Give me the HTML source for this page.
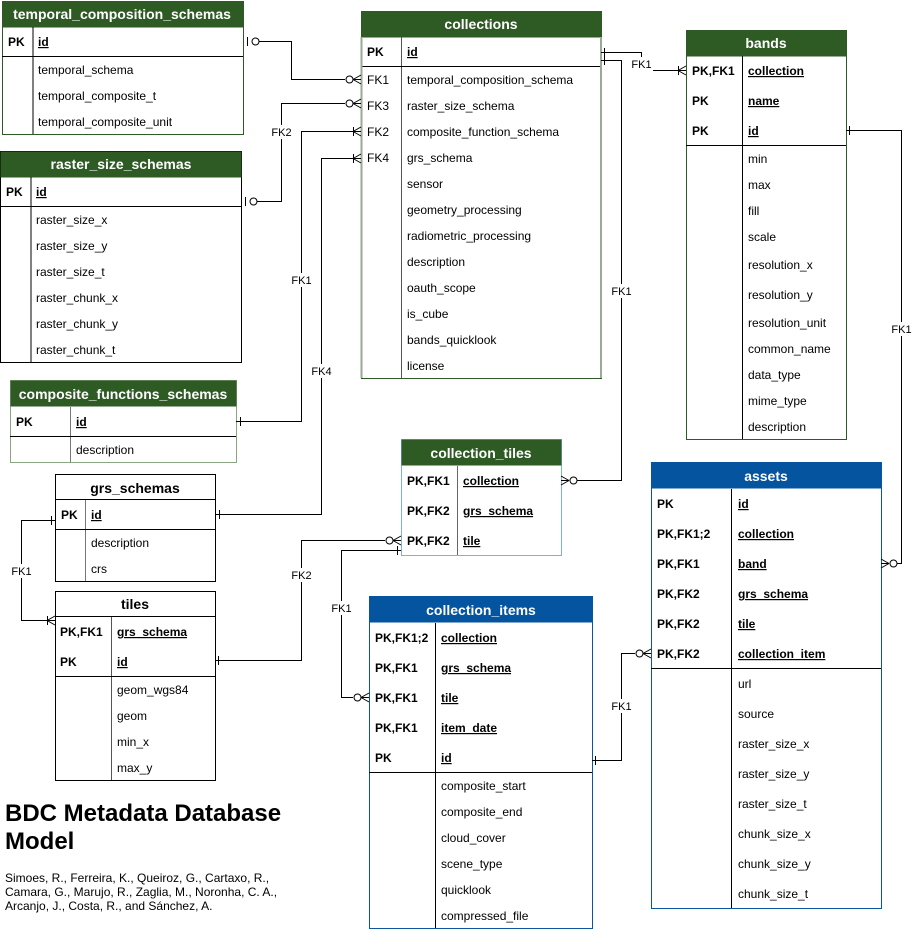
<!DOCTYPE html>
<html><head><meta charset="utf-8"><style>
html,body{margin:0;padding:0;background:#fff;}
svg{display:block;font-family:"Liberation Sans",Arial,sans-serif;}
.h{fill:#fff;font-weight:bold;font-size:14px;text-anchor:middle;}
.hb{fill:#000;font-weight:bold;font-size:14px;text-anchor:middle;}
.k{font-weight:bold;font-size:12px;fill:#000;}
.u{font-weight:bold;font-size:12px;fill:#000;text-decoration:underline;}
.t{font-size:12px;fill:#000;}
.l{font-size:11px;fill:#000;text-anchor:middle;}
.c{fill:none;stroke:#000;stroke-width:1;}
</style></head><body>
<svg width="912" height="932" viewBox="0 0 912 932" xmlns="http://www.w3.org/2000/svg">

<!-- temporal_composition_schemas -->
<rect x="2.5" y="1.5" width="241" height="133" fill="#fff" stroke="#2d5a27"/>
<rect x="2.5" y="1.5" width="241" height="26" fill="#2e5a24"/>
<text class="h" x="122" y="19">temporal_composition_schemas</text>
<line class="c" x1="33" y1="27" x2="33" y2="134"/><line class="c" x1="2" y1="56.5" x2="243" y2="56.5"/>
<text class="k" x="8" y="46">PK</text><text class="u" x="38" y="46">id</text>
<text class="t" x="38" y="74">temporal_schema</text>
<text class="t" x="38" y="100">temporal_composite_t</text>
<text class="t" x="38" y="126">temporal_composite_unit</text>

<!-- raster_size_schemas -->
<rect x="0.5" y="151.5" width="241" height="211" fill="#fff" stroke="#000"/>
<rect x="0.5" y="151.5" width="241" height="26" fill="#2e5a24"/>
<text class="h" x="121" y="169">raster_size_schemas</text>
<line class="c" x1="31" y1="177" x2="31" y2="362"/><line class="c" x1="0" y1="206.5" x2="241" y2="206.5"/>
<text class="k" x="6" y="196">PK</text><text class="u" x="36" y="196">id</text>
<text class="t" x="36" y="224">raster_size_x</text>
<text class="t" x="36" y="250">raster_size_y</text>
<text class="t" x="36" y="276">raster_size_t</text>
<text class="t" x="36" y="302">raster_chunk_x</text>
<text class="t" x="36" y="328">raster_chunk_y</text>
<text class="t" x="36" y="354">raster_chunk_t</text>

<!-- composite_functions_schemas -->
<rect x="10.5" y="380.5" width="226" height="82" fill="#fff" stroke="#8aa582"/>
<rect x="10.5" y="380.5" width="226" height="26" fill="#2e5a24"/>
<text class="h" x="123" y="399">composite_functions_schemas</text>
<line x1="70.5" y1="407" x2="70.5" y2="462" stroke="#777"/><line class="c" x1="10" y1="436.5" x2="236" y2="436.5"/>
<text class="k" x="16" y="426">PK</text><text class="u" x="76" y="426">id</text>
<text class="t" x="76" y="454">description</text>

<!-- grs_schemas -->
<rect x="55.5" y="474.5" width="160" height="107" fill="#fff" stroke="#000"/>
<line class="c" x1="55" y1="499.5" x2="215" y2="499.5"/>
<text class="hb" x="135" y="493">grs_schemas</text>
<line x1="85.5" y1="500" x2="85.5" y2="581" stroke="#777"/><line class="c" x1="55" y1="529.5" x2="215" y2="529.5"/>
<text class="k" x="61" y="519">PK</text><text class="u" x="91" y="519">id</text>
<text class="t" x="91" y="547">description</text>
<text class="t" x="91" y="573">crs</text>

<!-- tiles -->
<rect x="55.5" y="591.5" width="160" height="189" fill="#fff" stroke="#000"/>
<line class="c" x1="55" y1="616.5" x2="215" y2="616.5"/>
<text class="hb" x="135" y="609">tiles</text>
<line x1="111.5" y1="617" x2="111.5" y2="780" stroke="#555"/><line class="c" x1="55" y1="676.5" x2="215" y2="676.5"/>
<text class="k" x="60" y="636">PK,FK1</text><text class="u" x="117" y="636">grs_schema</text>
<text class="k" x="60" y="666">PK</text><text class="u" x="117" y="666">id</text>
<text class="t" x="117" y="694">geom_wgs84</text>
<text class="t" x="117" y="720">geom</text>
<text class="t" x="117" y="746">min_x</text>
<text class="t" x="117" y="772">max_y</text>

<!-- collections -->
<rect x="361.5" y="11.5" width="240" height="367" fill="#fff" stroke="#2d5a27"/>
<rect x="361.5" y="11.5" width="240" height="26" fill="#2e5a24"/>
<text class="h" x="481" y="29">collections</text>
<line x1="401.5" y1="37" x2="401.5" y2="378" stroke="#555"/><line class="c" x1="361" y1="66.5" x2="601" y2="66.5"/>
<line x1="361.5" y1="37" x2="361.5" y2="378" stroke="#9aaa96" stroke-width="2"/>
<line x1="601" y1="37" x2="601" y2="378" stroke="#9aaa96" stroke-width="2"/>
<text class="k" x="367" y="56">PK</text><text class="u" x="407" y="56">id</text>
<text class="t" x="367" y="84">FK1</text><text class="t" x="407" y="84">temporal_composition_schema</text>
<text class="t" x="367" y="110">FK3</text><text class="t" x="407" y="110">raster_size_schema</text>
<text class="t" x="367" y="136">FK2</text><text class="t" x="407" y="136">composite_function_schema</text>
<text class="t" x="367" y="162">FK4</text><text class="t" x="407" y="162">grs_schema</text>
<text class="t" x="407" y="188">sensor</text>
<text class="t" x="407" y="214">geometry_processing</text>
<text class="t" x="407" y="240">radiometric_processing</text>
<text class="t" x="407" y="266">description</text>
<text class="t" x="407" y="292">oauth_scope</text>
<text class="t" x="407" y="318">is_cube</text>
<text class="t" x="407" y="344">bands_quicklook</text>
<text class="t" x="407" y="370">license</text>

<!-- bands -->
<rect x="686.5" y="30.5" width="160" height="409" fill="#fff" stroke="#2d5a27"/>
<rect x="686.5" y="30.5" width="160" height="26" fill="#2e5a24"/>
<text class="h" x="766" y="48">bands</text>
<line class="c" x1="742.5" y1="56" x2="742.5" y2="439"/><line class="c" x1="686" y1="145.5" x2="846" y2="145.5"/>
<text class="k" x="692" y="75">PK,FK1</text><text class="u" x="748" y="75">collection</text>
<text class="k" x="692" y="105">PK</text><text class="u" x="748" y="105">name</text>
<text class="k" x="692" y="135">PK</text><text class="u" x="748" y="135">id</text>
<text class="t" x="748" y="163">min</text>
<text class="t" x="748" y="189">max</text>
<text class="t" x="748" y="215">fill</text>
<text class="t" x="748" y="241">scale</text>
<text class="t" x="748" y="269">resolution_x</text>
<text class="t" x="748" y="299">resolution_y</text>
<text class="t" x="748" y="327">resolution_unit</text>
<text class="t" x="748" y="353">common_name</text>
<text class="t" x="748" y="379">data_type</text>
<text class="t" x="748" y="405">mime_type</text>
<text class="t" x="748" y="431">description</text>

<!-- collection_tiles -->
<rect x="401.5" y="439.5" width="160" height="116" fill="#fff" stroke="#7fb2db"/>
<rect x="401.5" y="439.5" width="160" height="26" fill="#2e5a24"/>
<text class="h" x="481" y="458">collection_tiles</text>
<line x1="457.5" y1="466" x2="457.5" y2="555" stroke="#666"/>
<text class="k" x="407" y="485">PK,FK1</text><text class="u" x="463" y="485">collection</text>
<text class="k" x="407" y="515">PK,FK2</text><text class="u" x="463" y="515">grs_schema</text>
<text class="k" x="407" y="545">PK,FK2</text><text class="u" x="463" y="545">tile</text>

<!-- assets -->
<rect x="651.5" y="462.5" width="230" height="446" fill="#fff" stroke="#0a56a0"/>
<rect x="651.5" y="462.5" width="230" height="26" fill="#0454a0"/>
<text class="h" x="766" y="481">assets</text>
<line class="c" x1="731.5" y1="489" x2="731.5" y2="908"/><line class="c" x1="651" y1="668.5" x2="881" y2="668.5"/>
<text class="k" x="657" y="508">PK</text><text class="u" x="738" y="508">id</text>
<text class="k" x="657" y="538">PK,FK1;2</text><text class="u" x="738" y="538">collection</text>
<text class="k" x="657" y="568">PK,FK1</text><text class="u" x="738" y="568">band</text>
<text class="k" x="657" y="598">PK,FK2</text><text class="u" x="738" y="598">grs_schema</text>
<text class="k" x="657" y="628">PK,FK2</text><text class="u" x="738" y="628">tile</text>
<text class="k" x="657" y="658">PK,FK2</text><text class="u" x="738" y="658">collection_item</text>
<text class="t" x="738" y="688">url</text>
<text class="t" x="738" y="718">source</text>
<text class="t" x="738" y="748">raster_size_x</text>
<text class="t" x="738" y="778">raster_size_y</text>
<text class="t" x="738" y="808">raster_size_t</text>
<text class="t" x="738" y="838">chunk_size_x</text>
<text class="t" x="738" y="868">chunk_size_y</text>
<text class="t" x="738" y="898">chunk_size_t</text>

<!-- collection_items -->
<rect x="369.5" y="596.5" width="223" height="332" fill="#fff" stroke="#0a56a0"/>
<rect x="369.5" y="596.5" width="223" height="26" fill="#0454a0"/>
<text class="h" x="481" y="615">collection_items</text>
<line class="c" x1="435.5" y1="623" x2="435.5" y2="928"/><line class="c" x1="369" y1="772.5" x2="592" y2="772.5"/>
<text class="k" x="375" y="642">PK,FK1;2</text><text class="u" x="441" y="642">collection</text>
<text class="k" x="375" y="672">PK,FK1</text><text class="u" x="441" y="672">grs_schema</text>
<text class="k" x="375" y="702">PK,FK1</text><text class="u" x="441" y="702">tile</text>
<text class="k" x="375" y="732">PK,FK1</text><text class="u" x="441" y="732">item_date</text>
<text class="k" x="375" y="762">PK</text><text class="u" x="441" y="762">id</text>
<text class="t" x="441" y="790">composite_start</text>
<text class="t" x="441" y="816">composite_end</text>
<text class="t" x="441" y="842">cloud_cover</text>
<text class="t" x="441" y="868">scene_type</text>
<text class="t" x="441" y="894">quicklook</text>
<text class="t" x="441" y="920">compressed_file</text>

<!-- connectors -->
<g class="c">
<!-- temporal -> collections FK1 -->
<polyline points="259,41.5 291.5,41.5 291.5,79.5 345,79.5"/>
<line x1="247.5" y1="37" x2="247.5" y2="46"/><circle cx="255.5" cy="41.5" r="3.5"/>
<circle cx="349.5" cy="79.5" r="3.5"/><path d="M353,79.5 L361,75 M353,79.5 L361,84 M353,79.5 L361,79.5"/>
<!-- raster -> FK3 -->
<polyline points="257,201.5 281.5,201.5 281.5,103.5 345,103.5"/>
<line x1="245.5" y1="197" x2="245.5" y2="206"/><circle cx="253.5" cy="201.5" r="3.5"/>
<circle cx="349.5" cy="103.5" r="3.5"/><path d="M353,103.5 L361,99 M353,103.5 L361,108 M353,103.5 L361,103.5"/>
<!-- composite -> FK2 -->
<polyline points="236,421.5 301.5,421.5 301.5,131.5 361,131.5"/>
<line x1="240.5" y1="417" x2="240.5" y2="426"/>
<line x1="353.5" y1="127" x2="353.5" y2="136"/><path d="M353,131.5 L361,127 M353,131.5 L361,136"/>
<!-- grs -> FK4 -->
<polyline points="215,514.5 321.5,514.5 321.5,158.5 361,158.5"/>
<line x1="219.5" y1="510" x2="219.5" y2="519"/>
<line x1="353.5" y1="154" x2="353.5" y2="163"/><path d="M353,158.5 L361,154 M353,158.5 L361,163"/>
<!-- collections -> bands -->
<polyline points="601,52.5 641.5,52.5 641.5,70.5 686,70.5"/>
<line x1="604.5" y1="48" x2="604.5" y2="57"/>
<line x1="678.5" y1="66" x2="678.5" y2="75"/><path d="M678,70.5 L686,66 M678,70.5 L686,75"/>
<!-- collections -> collection_tiles -->
<polyline points="601,60.5 621.5,60.5 621.5,480.5 577,480.5"/>
<line x1="604.5" y1="56" x2="604.5" y2="65"/>
<circle cx="573.5" cy="480.5" r="3.5"/><path d="M569,480.5 L561,476 M569,480.5 L561,485 M569,480.5 L561,480.5"/>
<!-- bands -> assets -->
<polyline points="846,130.5 901.5,130.5 901.5,563.5 897,563.5"/>
<line x1="849.5" y1="126" x2="849.5" y2="135"/>
<circle cx="893.5" cy="563.5" r="3.5"/><path d="M889,563.5 L881,559 M889,563.5 L881,568 M889,563.5 L881,563.5"/>
<!-- grs -> tiles -->
<polyline points="55,520.5 21.5,520.5 21.5,620.5 55,620.5"/>
<line x1="51.5" y1="516" x2="51.5" y2="525"/>
<line x1="47.5" y1="616" x2="47.5" y2="625"/><path d="M47,620.5 L55,616 M47,620.5 L55,625"/>
<!-- tiles -> collection_tiles -->
<polyline points="215,660.5 301.5,660.5 301.5,540.5 385,540.5"/>
<line x1="218.5" y1="656" x2="218.5" y2="665"/>
<circle cx="389.5" cy="540.5" r="3.5"/><path d="M393,540.5 L401,536 M393,540.5 L401,545 M393,540.5 L401,540.5"/>
<!-- collection_tiles -> collection_items -->
<polyline points="401,550.5 341.5,550.5 341.5,697.5 353,697.5"/>
<line x1="397.5" y1="546" x2="397.5" y2="555"/>
<circle cx="357.5" cy="697.5" r="3.5"/><path d="M361,697.5 L369,693 M361,697.5 L369,702 M361,697.5 L369,697.5"/>
<!-- collection_items -> assets -->
<polyline points="592,760.5 621.5,760.5 621.5,653.5 635,653.5"/>
<line x1="595.5" y1="756" x2="595.5" y2="765"/>
<circle cx="639.5" cy="653.5" r="3.5"/><path d="M643,653.5 L651,649 M643,653.5 L651,658 M643,653.5 L651,653.5"/>
</g>

<!-- connector labels -->
<rect x="269" y="125" width="24" height="14" fill="#fff"/><text class="l" x="281.5" y="136">FK2</text>
<rect x="289" y="273" width="24" height="14" fill="#fff"/><text class="l" x="301.5" y="284">FK1</text>
<rect x="309" y="364" width="24" height="14" fill="#fff"/><text class="l" x="321.5" y="375">FK4</text>
<rect x="629" y="57" width="24" height="14" fill="#fff"/><text class="l" x="641.5" y="68">FK1</text>
<rect x="609" y="284" width="24" height="14" fill="#fff"/><text class="l" x="621.5" y="295">FK1</text>
<rect x="889" y="322" width="24" height="14" fill="#fff"/><text class="l" x="901.5" y="333">FK1</text>
<rect x="9" y="564" width="24" height="14" fill="#fff"/><text class="l" x="21.5" y="575">FK1</text>
<rect x="289" y="568" width="24" height="14" fill="#fff"/><text class="l" x="301.5" y="579">FK2</text>
<rect x="329" y="601" width="24" height="14" fill="#fff"/><text class="l" x="341.5" y="612">FK1</text>
<rect x="609" y="699" width="24" height="14" fill="#fff"/><text class="l" x="621.5" y="710">FK1</text>

<!-- title -->
<text x="5" y="821" style="font-weight:bold;font-size:24px">BDC Metadata Database</text>
<text x="5" y="849" style="font-weight:bold;font-size:24px">Model</text>
<text class="t" x="5" y="882">Simoes, R., Ferreira, K., Queiroz, G., Cartaxo, R.,</text>
<text class="t" x="5" y="896">Camara, G., Marujo, R., Zaglia, M., Noronha, C. A.,</text>
<text class="t" x="5" y="910">Arcanjo, J., Costa, R., and Sánchez, A.</text>
</svg>
</body></html>
